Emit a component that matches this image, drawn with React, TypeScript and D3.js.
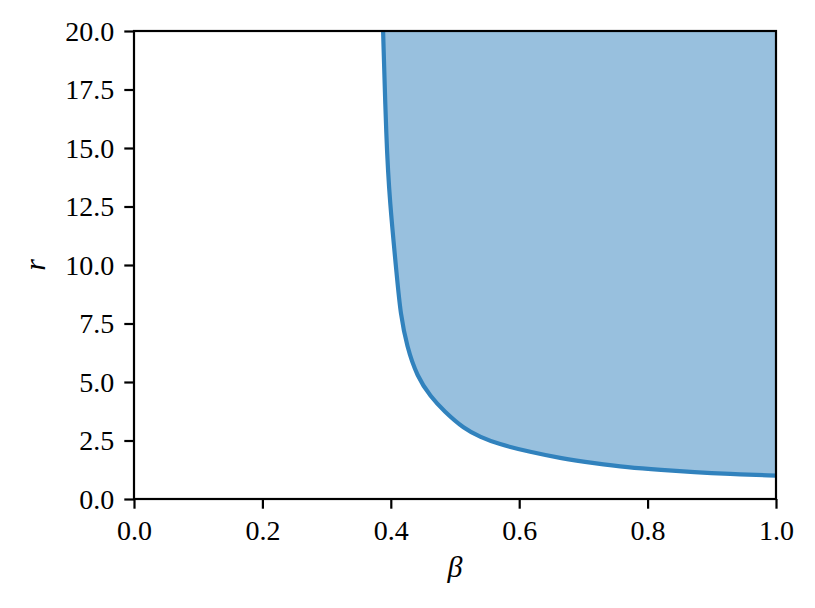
import React, { useEffect, useRef } from 'react';
import * as d3 from 'd3';

// boundary curve: beta -> r
const betaValues = [0.388, 0.393, 0.398, 0.410, 0.415, 0.425, 0.441, 0.462, 0.483, 0.514, 0.540, 0.566, 0.618, 0.665, 0.717, 0.769, 0.821, 0.873, 0.925, 1.0];
const rValues = [20.0, 15.3, 12.8, 9.36, 7.94, 6.51, 5.23, 4.37, 3.75, 3.0, 2.64, 2.36, 2.0, 1.74, 1.53, 1.35, 1.24, 1.14, 1.07, 1.0];

const xTicks = [0.0, 0.2, 0.4, 0.6, 0.8, 1.0];
const yTicks = [0.0, 2.5, 5.0, 7.5, 10.0, 12.5, 15.0, 17.5, 20.0];

const App = () => {
    const svgRef = useRef<SVGSVGElement>(null);

    useEffect(() => {
        document.body.style.margin = '0';

        const width = 815;
        const height = 608;
        const left = 134;
        const right = 776;
        const top = 31;
        const bottom = 499;
        const font = '"Liberation Serif", "Times New Roman", serif';
        const fontSize = 28;

        const x = d3.scaleLinear().domain([0, 1]).range([left, right]);
        const y = d3.scaleLinear().domain([0, 20]).range([bottom, top]);

        const data = betaValues.map((b, i) => ({ beta: b, r: rValues[i] }));

        const svg = d3.select(svgRef.current)
            .attr('width', width)
            .attr('height', height);
        svg.selectAll('*').remove();

        svg.append('rect')
            .attr('width', width)
            .attr('height', height)
            .attr('fill', 'white');

        const area = d3.area<{ beta: number; r: number }>()
            .x(d => x(d.beta))
            .y0(y(20))
            .y1(d => y(d.r))
            .curve(d3.curveBasis);

        const line = d3.line<{ beta: number; r: number }>()
            .x(d => x(d.beta))
            .y(d => y(d.r))
            .curve(d3.curveBasis);

        const clip = svg.append('clipPath').attr('id', 'plotclip');
        clip.append('rect')
            .attr('x', left)
            .attr('y', top)
            .attr('width', right - left)
            .attr('height', bottom - top);

        const plot = svg.append('g').attr('clip-path', 'url(#plotclip)');

        plot.append('path')
            .datum(data)
            .attr('d', area)
            .attr('fill', '#3182bd')
            .attr('fill-opacity', 0.5);

        plot.append('path')
            .datum(data)
            .attr('d', line)
            .attr('fill', 'none')
            .attr('stroke', '#3182bd')
            .attr('stroke-width', 4.2);

        // frame
        svg.append('rect')
            .attr('x', left)
            .attr('y', top)
            .attr('width', right - left)
            .attr('height', bottom - top)
            .attr('fill', 'none')
            .attr('stroke', 'black')
            .attr('stroke-width', 2.2);

        const fmt = d3.format('.1f');

        const xAxis = svg.append('g')
            .attr('transform', `translate(0, ${bottom})`)
            .call(d3.axisBottom(x).tickValues(xTicks).tickFormat(d => fmt(d as number)).tickSize(9.7).tickPadding(8));

        const yAxis = svg.append('g')
            .attr('transform', `translate(${left}, 0)`)
            .call(d3.axisLeft(y).tickValues(yTicks).tickFormat(d => fmt(d as number)).tickSize(9.7).tickPadding(10));

        [xAxis, yAxis].forEach(ax => {
            ax.select('.domain').remove();
            ax.selectAll('line').attr('stroke', 'black').attr('stroke-width', 2.2);
            ax.selectAll('text')
                .attr('fill', 'black')
                .style('font-family', font)
                .style('font-size', `${fontSize}px`);
        });
        xAxis.selectAll('text').attr('dy', null).attr('y', 41);
        yAxis.selectAll('text').attr('dy', '0.33em');

        svg.append('text')
            .attr('x', (left + right) / 2)
            .attr('y', 577)
            .attr('text-anchor', 'middle')
            .style('font-family', font)
            .style('font-style', 'italic')
            .style('font-size', `${fontSize + 2}px`)
            .text('β');

        svg.append('text')
            .attr('transform', `translate(45, ${(top + bottom) / 2}) rotate(-90)`)
            .attr('text-anchor', 'middle')
            .style('font-family', font)
            .style('font-style', 'italic')
            .style('font-size', `${fontSize + 2}px`)
            .text('r');
    }, []);

    return <svg ref={svgRef} style={{ display: 'block' }}></svg>;
};

export default App;
